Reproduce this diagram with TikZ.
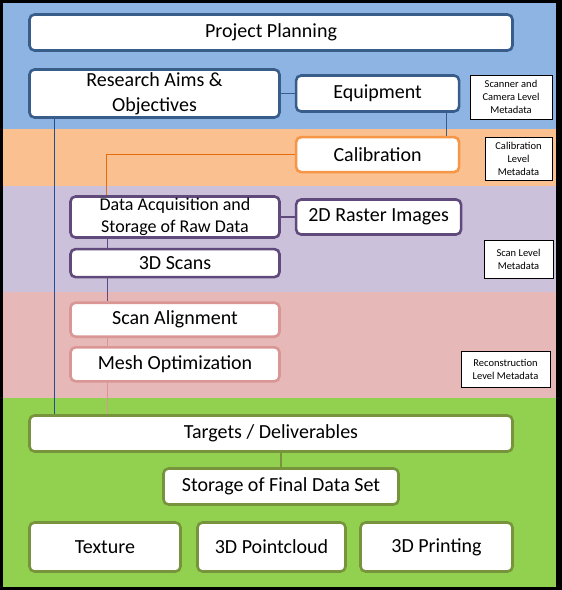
\documentclass[tikz,border=0pt]{standalone}
\usepackage{fontspec}
\setmainfont{Carlito}
\usetikzlibrary{positioning,calc}

\definecolor{bandblue}{RGB}{142,180,227}
\definecolor{bandorange}{RGB}{250,192,144}
\definecolor{bandpurple}{RGB}{204,193,218}
\definecolor{bandpink}{RGB}{230,185,184}
\definecolor{bandgreen}{RGB}{146,208,80}
\definecolor{edgeblue}{RGB}{56,93,138}
\definecolor{edgeorange}{RGB}{247,150,70}
\definecolor{edgepurple}{RGB}{96,74,123}
\definecolor{edgepink}{RGB}{217,150,148}
\definecolor{edgegreen}{RGB}{119,147,60}
\definecolor{lineorange}{RGB}{228,108,10}
\definecolor{lineblue}{RGB}{31,80,150}

\tikzstyle{blk} = [draw, fill=white, rounded corners=5pt, line width=2.6pt,
                   align=center, inner sep=0pt,
                   font=\fontsize{20}{25}\selectfont]
\tikzstyle{meta} = [draw=black, fill=white, line width=0.8pt, align=center,
                    inner sep=0pt, font=\fontsize{10.5}{13}\selectfont]
\tikzstyle{ln} = [line width=1.2pt]

\begin{document}
\begin{tikzpicture}[
    x=1pt,
    y=-1pt
]

   % frame and bands
   \fill[black] (0,0) rectangle (562,590);
   \fill[bandblue]   (3,3)   rectangle (556,129);
   \fill[bandorange] (3,129) rectangle (556,186);
   \fill[bandpurple] (3,186) rectangle (556,292);
   \fill[bandpink]   (3,292) rectangle (556,398);
   \fill[bandgreen]  (3,398) rectangle (556,587);

   \node[blk,draw=edgeblue,minimum width=483pt,minimum height=36pt]
        (plan) at (271,32.5) {Project Planning};
   \node[blk,draw=edgeblue,minimum width=250pt,minimum height=48pt]
        (aims) at (154.5,93.5) {Research Aims \&\\Objectives};
   \node[blk,draw=edgeblue,minimum width=163pt,minimum height=36pt,
         right=14pt of aims] (equip) {Equipment};
   \node[blk,draw=edgeorange,minimum width=163pt,minimum height=35pt,
         below=23pt of equip] (calib) {Calibration};

   \node[blk,draw=edgepurple,minimum width=209pt,minimum height=41pt,
         font=\fontsize{18}{22}\selectfont]
        (acq) at (175,217) {Data Acquisition and\\Storage of Raw Data};
   \node[blk,draw=edgepurple,minimum width=165pt,minimum height=35pt,
         right=14pt of acq] (raster) {2D Raster Images};
   \node[blk,draw=edgepurple,minimum width=209pt,minimum height=28pt,
         below=9pt of acq] (scans) {3D Scans};

   \node[blk,draw=edgepink,minimum width=209pt,minimum height=34pt,
         below=23pt of scans] (align) {Scan Alignment};
   \node[blk,draw=edgepink,minimum width=209pt,minimum height=34pt,
         below=8pt of align] (mesh) {Mesh Optimization};

   \node[blk,draw=edgegreen,minimum width=483pt,minimum height=36pt]
        (targets) at (271,433.5) {Targets / Deliverables};
   \node[blk,draw=edgegreen,minimum width=235pt,minimum height=36pt]
        (storage) at (281,486.5) {Storage of Final Data Set};
   \node[blk,draw=edgegreen,minimum width=151pt,minimum height=49pt]
        (texture) at (105,547) {Texture};
   \node[blk,draw=edgegreen,minimum width=148pt,minimum height=49pt]
        (cloud) at (271.5,547) {3D Pointcloud};
   \node[blk,draw=edgegreen,minimum width=152pt,minimum height=49pt]
        (printing) at (436.5,547) {3D Printing};

   % metadata labels
   \node[meta,minimum width=82pt,minimum height=44pt]
        (metascan) at (511,97) {Scanner and\\Camera Level\\Metadata};
   \node[meta,minimum width=67pt,minimum height=43pt]
        (metacal) at (518.5,158.5) {Calibration\\Level\\Metadata};
   \node[meta,minimum width=69pt,minimum height=38pt]
        (metalvl) at (518.5,259) {Scan Level\\Metadata};
   \node[meta,minimum width=89pt,minimum height=36pt]
        (metarec) at (505.5,369) {Reconstruction\\Level Metadata};

   % connectors
   \draw[ln,edgeblue] (aims.east |- equip.west) -- (equip.west);
   \draw[ln,edgeblue] ([xshift=-14pt]equip.south east)
                   -- ([xshift=-14pt]calib.north east);
   \draw[ln,lineorange] (calib.west) -| ([xshift=37pt]acq.north west);
   \draw[line width=1pt,lineblue] ([xshift=26pt]aims.south west)
                   -- ([xshift=26pt]targets.north west);
   \draw[ln,edgepurple] (acq.east |- raster.west) -- (raster.west);
   \draw[ln,edgepurple] ([xshift=38pt]acq.south west)
                   -- ([xshift=38pt]scans.north west);
   \draw[ln,edgepurple] ([xshift=38pt]scans.south west)
                   -- ([xshift=38pt]align.north west);
   \draw[ln,edgepink] ([xshift=38pt]align.south west)
                   -- ([xshift=38pt]mesh.north west);
   \draw[ln,edgepink] ([xshift=38pt]mesh.south west)
                   -- ([xshift=38pt]mesh.south west |- targets.north);
   \draw[ln,edgegreen] (storage.north) -- (storage.north |- targets.south);

\end{tikzpicture}
\end{document}
